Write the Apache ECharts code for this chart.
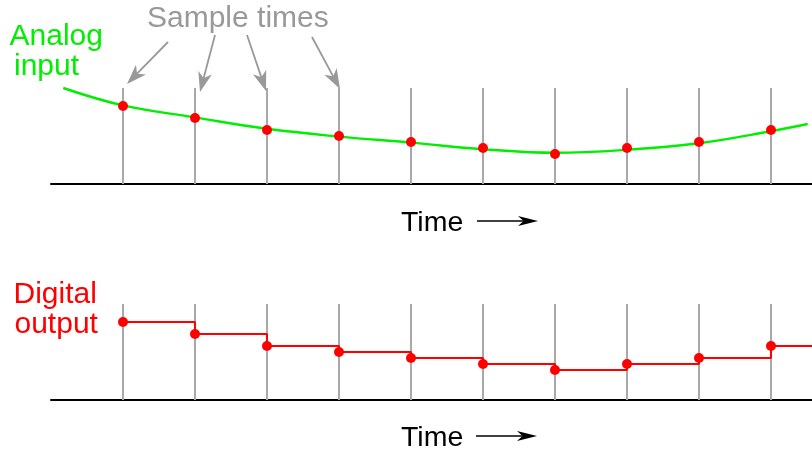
<!DOCTYPE html>
<html>
<head>
<meta charset="utf-8">
<script src="https://cdn.jsdelivr.net/npm/echarts@6/dist/echarts.min.js"></script>
<style>
html,body{margin:0;padding:0;background:#fff;}
#chart{width:812px;height:453px;}
</style>
</head>
<body>
<div id="chart"></div>
<script>
// ---- data ----
const sampleTimes = [1, 2, 3, 4, 5, 6, 7, 8, 9, 10];
const sampleValues = [13, 11, 9, 8, 7, 6, 5, 6, 7, 9];          // sampled analog = digital codes
const analogTimes = [0.17, 1, 2, 3, 4, 5, 6, 7, 8, 9, 10, 10.51];
const analogValues = [16.0, 13.1, 11.1, 9.2, 7.9, 6.9, 5.8, 5.2, 5.7, 6.8, 8.8, 10.0];
const sampleLineHeight = 16;
const timeMax = 761 / 72;
const valueMax = 30;

const labelSample = 'Sample times';
const labelAnalog = ['Analog', 'input'];
const labelDigital = ['Digital', 'output'];
const labelTime = 'Time';

// ---- build ----
const FONT = '"Liberation Sans", Arial, Helvetica, sans-serif';
const GRAY_LINE = '#a8a8a8';
const GRAY_TEXT = '#999999';

const samplePts = sampleTimes.map((t, i) => [t, sampleValues[i]]);
const analogPts = analogTimes.map((t, i) => [t, analogValues[i]]);
const stepPts = samplePts.concat([[timeMax + 0.1, sampleValues[sampleValues.length - 1]]]);
const sampleMarks = sampleTimes.map(t => [{coord: [t, 0]}, {coord: [t, sampleLineHeight]}]);

function arrow(x1, y1, x2, y2, len, hw, color, lw) {
  const dx = x2 - x1, dy = y2 - y1, L = Math.hypot(dx, dy);
  const ux = dx / L, uy = dy / L, nx = -uy, ny = ux;
  const bx = x2 - ux * len, by = y2 - uy * len;
  const mx = x2 - ux * len * 0.72, my = y2 - uy * len * 0.72;
  return [
    {type: 'line', shape: {x1: x1, y1: y1, x2: mx, y2: my}, style: {stroke: color, lineWidth: lw}, silent: true, z: 10},
    {type: 'polygon', shape: {points: [[x2, y2], [bx + nx * hw, by + ny * hw], [mx, my], [bx - nx * hw, by - ny * hw]]},
     style: {fill: color}, silent: true, z: 10}
  ];
}
function txt(x, y, s, color, size) {
  return {type: 'text', x: x, y: y, silent: true, z: 10,
    style: {text: s, fill: color, font: size + 'px ' + FONT, textAlign: 'left', textVerticalAlign: 'middle', verticalAlign: 'middle'}};
}

const graphics = [
  txt(147, 19, labelSample, GRAY_TEXT, 30),
  txt(9.5, 37, labelAnalog[0], '#00ee00', 30),
  txt(14, 67, labelAnalog[1], '#00ee00', 30),
  txt(13.5, 295, labelDigital[0], '#ff0000', 30),
  txt(14.5, 325, labelDigital[1], '#ff0000', 30),
  txt(401, 223, labelTime, '#000', 28.5),
  txt(401, 438, labelTime, '#000', 28.5)
]
  .concat(arrow(168, 42, 127, 84, 20, 7, GRAY_TEXT, 1.8))
  .concat(arrow(215, 35, 200, 92, 20, 7, GRAY_TEXT, 1.8))
  .concat(arrow(247, 35, 266, 91, 20, 7, GRAY_TEXT, 1.8))
  .concat(arrow(312, 37, 340, 89, 20, 7, GRAY_TEXT, 1.8))
  .concat(arrow(477, 221, 538, 221, 20, 5, '#000', 1.7))
  .concat(arrow(476, 436, 537, 436, 20, 5, '#000', 1.7));

function xAx(g) {
  return {gridIndex: g, type: 'value', min: 0, max: timeMax,
    axisLine: {show: true, onZero: false, lineStyle: {color: '#000', width: 2}},
    axisTick: {show: false}, axisLabel: {show: false}, splitLine: {show: false}};
}
function yAx(g) {
  return {gridIndex: g, type: 'value', min: 0, max: valueMax, show: false, splitLine: {show: false}};
}
function marks(g) {
  return {type: 'line', xAxisIndex: g, yAxisIndex: g, data: [], z: 1, silent: true,
    markLine: {silent: true, z: 1, symbol: ['none', 'none'], label: {show: false}, animation: false,
      lineStyle: {color: GRAY_LINE, width: 2, type: 'solid'}, emphasis: {disabled: true}, data: sampleMarks}};
}

const option = {
  animation: false,
  backgroundColor: '#fff',
  grid: [
    {left: 51, right: 0, top: 4, height: 180},
    {left: 51, right: 0, top: 220, height: 180}
  ],
  xAxis: [xAx(0), xAx(1)],
  yAxis: [yAx(0), yAx(1)],
  series: [
    marks(0),
    marks(1),
    {type: 'line', xAxisIndex: 0, yAxisIndex: 0, data: analogPts, smooth: 0.4, showSymbol: false, z: 3,
      lineStyle: {color: '#00ee00', width: 2.4}, silent: true},
    {type: 'scatter', xAxisIndex: 0, yAxisIndex: 0, data: samplePts, symbolSize: 10, z: 6,
      itemStyle: {color: '#ff0000', opacity: 1}, silent: true},
    {type: 'line', xAxisIndex: 1, yAxisIndex: 1, data: stepPts, step: 'end', showSymbol: false, z: 3,
      lineStyle: {color: '#ff0000', width: 2}, silent: true},
    {type: 'scatter', xAxisIndex: 1, yAxisIndex: 1, data: samplePts, symbolSize: 10, z: 6,
      itemStyle: {color: '#ff0000', opacity: 1}, silent: true}
  ],
  graphic: graphics
};

const chart = echarts.init(document.getElementById('chart'), null, {renderer: 'canvas'});
chart.setOption(option);
</script>
</body>
</html>
